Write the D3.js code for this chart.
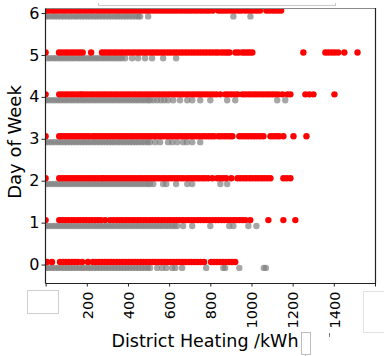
<!DOCTYPE html>
<html>
<head>
<meta charset="utf-8">
<script src="https://cdn.jsdelivr.net/npm/d3@7"></script>
<style>
  body { margin: 0; background: #fff; }
  svg { display: block; }
  text { font-family: "DejaVu Sans", sans-serif; fill: #000; }
</style>
</head>
<body>
<svg id="chart" width="384" height="356"></svg>
<script>
// Day of week index (0 = Monday … 6 = Sunday)
const days = [0, 1, 2, 3, 4, 5, 6];
const xTickValues = [0, 200, 400, 600, 800, 1000, 1200, 1400, 1600];
const yTickValues = [0, 1, 2, 3, 4, 5, 6];

// District heating readings (kWh), highlighted subset, per day
const redDay0 = [6, 31, 70, 84, 99, 113, 128, 142, 157, 177, 206,
  230, 244, 259, 273, 288, 302, 317, 331, 346, 360, 375, 389, 404, 418, 433, 447, 462, 476, 491, 505,
  520, 534, 549, 563, 578, 592, 607, 621, 636, 650, 665, 679, 694, 708, 723, 737, 752, 770,
  804, 818, 833, 847, 862, 876, 891, 905, 921];
const redDay1 = [0, 66, 80, 95, 109, 124, 138, 153, 167, 182, 196, 211, 225, 240, 254, 269, 289,
  313, 330, 347,
  362, 376, 391, 405, 420, 434, 449, 463, 478, 492, 507, 521, 536, 550, 565, 579, 594, 608, 623, 637,
  652, 666, 681, 695, 710, 724, 739, 753, 768, 782, 797, 811, 826, 840, 855, 869, 884, 898, 913, 927,
  942, 956, 971, 994, 1082, 1155, 1213];
const redDay2 = [0, 66, 80, 95, 109, 124, 138, 153, 167, 182, 196, 211, 225, 240, 254, 269,
  280, 294, 309, 323, 338, 352, 367, 381, 396, 410, 425, 439, 454, 468, 483, 497, 512, 526, 541, 555,
  570, 584, 599, 613, 628, 642, 657, 671, 688,
  702, 716, 731, 745, 760, 774, 789, 810, 834, 848, 863, 877, 902,
  932, 946, 961, 975, 990, 1004, 1019, 1033, 1048, 1062, 1077, 1092, 1155, 1171, 1189];
const redDay3 = [0, 66, 80, 95, 109, 124, 138, 153, 167, 182, 196, 211, 229,
  241, 255, 270, 284, 299, 313, 328, 342, 357, 371, 386, 400, 415, 429, 444, 458, 473, 487, 502, 516,
  531, 545, 560, 574, 589, 603, 618, 632, 647, 661, 676, 690, 705, 719, 734, 748, 763, 777, 792, 806, 819,
  839, 853, 868, 882, 896, 907, 941, 955, 970, 984, 999, 1013, 1028, 1042, 1058,
  1092, 1106, 1121, 1135, 1155, 1204, 1267];
const redDay4 = [0, 66, 80, 95, 109, 124, 138, 153, 167, 177,
  191, 205, 220, 234, 249, 263, 278, 292, 307, 321, 336, 350, 365, 379, 394, 408, 423, 437, 452, 466,
  481, 495, 510, 524, 539, 553, 568, 582, 597, 611, 626, 640, 655, 669, 684, 698, 713, 727, 742, 756,
  771, 785, 800, 814, 829, 848, 873, 887, 902, 917, 932,
  956, 970, 985, 999, 1014, 1028, 1043, 1057, 1072, 1086, 1101, 1115, 1130, 1150,
  1175, 1189, 1262, 1281, 1301, 1403];
const redDay5 = [0, 65, 79, 94, 108, 123, 137, 152, 166, 180, 221,
  274, 288, 303, 317, 332, 346, 361, 375, 390, 404, 419, 433, 448, 462, 477, 491, 506, 520, 535, 549,
  564, 578, 593, 607, 622, 636, 651, 665, 680, 694, 709, 723, 738, 752, 767, 781, 796, 810, 825, 838,
  854, 868, 881, 893, 922, 937, 955, 966, 980, 992, 1004,
  1252, 1359, 1374, 1390, 1405, 1421, 1451, 1515];
const redDay6 = [2, 15, 31, 44, 58, 73, 88, 101, 117, 130, 146, 160, 173, 189, 203, 218, 231, 247,
  262, 276, 290, 305, 319, 334, 348, 362, 377, 391, 405, 420, 434, 449, 463, 478, 492, 506, 521, 535,
  550, 564, 578, 593, 607, 622, 636, 651, 665, 680, 694, 708, 723, 737, 752, 766, 781, 795, 812,
  839, 852, 866, 880, 894, 909, 923, 938, 952, 970, 984, 998, 1013, 1027, 1041,
  1072, 1086, 1101, 1115, 1130, 1144];

// District heating readings (kWh), remaining subset, per day
const grayDay0 = [3, 17, 32, 46, 61, 75, 90, 104, 119, 133, 148, 162, 177, 191, 206, 220, 235, 249,
  264, 278, 293, 307, 322, 336, 351, 365, 380, 394, 409, 423, 438, 452, 467, 481, 496, 507,
  542, 566, 586, 615, 630, 663, 780, 863, 872, 941, 1060, 1070];
const grayDay1 = [3, 17, 32, 46, 61, 75, 90, 104, 119, 133, 148, 162, 177, 191, 206, 220, 235, 249,
  264, 278, 293, 307, 322, 336, 351, 365, 380, 394, 409, 423, 438, 452, 467, 481, 496, 510, 525, 539,
  554, 568, 583, 597, 612, 626, 639, 668, 712, 800, 892, 912, 985, 1024];
const grayDay2 = [3, 17, 32, 46, 61, 75, 90, 104, 119, 133, 148, 162, 177, 191, 206, 220, 235, 249,
  264, 278, 293, 307, 322, 336, 351, 365, 380, 394, 409, 423, 438, 452, 467, 481, 496, 507,
  523, 571, 586, 634, 688, 712, 849, 882];
const grayDay3 = [3, 17, 32, 46, 61, 75, 90, 104, 119, 133, 148, 162, 177, 191, 206, 220, 235, 249,
  264, 278, 293, 307, 322, 336, 351, 365, 380, 394, 409, 423, 438, 452, 467, 481, 496, 507,
  532, 556, 595, 615, 639, 668, 686, 712, 751];
const grayDay4 = [3, 17, 32, 46, 61, 75, 90, 104, 119, 133, 148, 162, 177, 191, 206, 220, 235, 249,
  264, 278, 293, 307, 322, 336, 351, 365, 380, 394, 409, 423, 438, 452, 467, 481, 496, 507,
  524, 542, 560, 577, 595, 620, 653, 688, 712, 751, 800, 882, 921, 1125, 1164];
const grayDay5 = [8, 22, 37, 51, 66, 80, 95, 109, 124, 138, 153, 167, 182, 196, 211, 225, 240, 254,
  269, 283, 298, 312, 327, 341, 356, 370, 386, 420, 449, 483, 517, 571, 634];
const grayDay6 = [3, 17, 32, 46, 60, 75, 89, 104, 118, 133, 147, 161, 176, 190, 205, 219, 234, 248,
  262, 277, 291, 306, 320, 335, 349, 363, 378, 392, 407, 421, 436, 450, 459, 498, 912, 995];

const redByDay = [redDay0, redDay1, redDay2, redDay3, redDay4, redDay5, redDay6];
const grayByDay = [grayDay0, grayDay1, grayDay2, grayDay3, grayDay4, grayDay5, grayDay6];
const redOffset = 0.06;
const grayOffset = -0.08;

const svg = d3.select("#chart");
const plot = { left: 45, right: 375, top: 8, bottom: 283 };

const x = d3.scaleLinear().domain([-3, 1600]).range([plot.left, plot.right]);
const y = d3.scaleLinear().domain([-0.44, 6.12]).range([plot.bottom, plot.top]);

svg.append("defs").append("clipPath").attr("id", "plot-clip")
  .append("rect")
  .attr("x", plot.left).attr("y", plot.top)
  .attr("width", plot.right - plot.left).attr("height", plot.bottom - plot.top);

const pointsLayer = svg.append("g").attr("clip-path", "url(#plot-clip)");

const flatten = (byDay, offset) => byDay.flatMap((vals, d) => vals.map(v => ({ v, yv: days[d] + offset })));

pointsLayer.append("g").selectAll("circle")
  .data(flatten(grayByDay, grayOffset))
  .join("circle")
  .attr("cx", d => x(d.v))
  .attr("cy", d => y(d.yv))
  .attr("r", 3.2)
  .attr("fill", "#808080")
  .attr("fill-opacity", 0.7);

pointsLayer.append("g").selectAll("circle")
  .data(flatten(redByDay, redOffset))
  .join("circle")
  .attr("cx", d => x(d.v))
  .attr("cy", d => y(d.yv))
  .attr("r", 3.2)
  .attr("fill", "#ff0000");

// Frame
svg.append("line").attr("x1", plot.left).attr("x2", plot.right)
  .attr("y1", plot.top + 0.5).attr("y2", plot.top + 0.5)
  .attr("stroke", "#888").attr("stroke-width", 1);
svg.append("line").attr("x1", plot.right + 0.5).attr("x2", plot.right + 0.5)
  .attr("y1", plot.top).attr("y2", plot.bottom)
  .attr("stroke", "#222").attr("stroke-width", 1.2);

// Y axis
const yAxis = svg.append("g")
  .attr("transform", `translate(${plot.left},0)`)
  .call(d3.axisLeft(y).tickValues(yTickValues).tickFormat(d3.format("d"))
    .tickSize(3.5).tickSizeOuter(0).tickPadding(2));
yAxis.select(".domain").attr("stroke", "#222").attr("stroke-width", 1.2);
yAxis.selectAll(".tick line").attr("stroke", "#222");
yAxis.selectAll("text").attr("font-size", 16).attr("font-family", "DejaVu Sans, sans-serif");

// X axis with vertical tick labels
const xAxis = svg.append("g")
  .attr("transform", `translate(0,${plot.bottom})`)
  .call(d3.axisBottom(x).tickValues(xTickValues).tickFormat(d3.format("d"))
    .tickSize(3.5).tickSizeOuter(0));
xAxis.select(".domain").attr("stroke", "#222").attr("stroke-width", 1.2);
xAxis.selectAll(".tick line").attr("stroke", "#222");
xAxis.selectAll("text")
  .attr("font-size", 14.5)
  .attr("font-family", "DejaVu Sans, sans-serif")
  .attr("transform", "rotate(-90)")
  .attr("text-anchor", "end")
  .attr("x", -8.5)
  .attr("y", 0)
  .attr("dy", "0.36em");

// Axis titles
svg.append("text")
  .attr("x", 205).attr("y", 347)
  .attr("text-anchor", "middle")
  .attr("font-size", 17.5)
  .text("District Heating /kWh");

svg.append("text")
  .attr("transform", "translate(21,142) rotate(-90)")
  .attr("text-anchor", "middle")
  .attr("font-size", 18)
  .text("Day of Week");

// Empty widget frames around the figure
const frames = svg.append("g").attr("fill", "#fff");
frames.append("rect").attr("x", 27.5).attr("y", 290.5).attr("width", 31).attr("height", 23)
  .attr("stroke", "#cfcfcf");
frames.append("rect").attr("x", 363.5).attr("y", 291.5).attr("width", 30).attr("height", 41)
  .attr("stroke", "#e2e2e2");
frames.append("rect").attr("x", 301.5).attr("y", 332.5).attr("width", 9).attr("height", 22)
  .attr("stroke", "#bdbdbd");
svg.append("line").attr("x1", 305.5).attr("x2", 305.5).attr("y1", 354).attr("y2", 356)
  .attr("stroke", "#bdbdbd");
svg.append("line").attr("x1", 329.5).attr("x2", 329.5).attr("y1", 333).attr("y2", 337)
  .attr("stroke", "#777");

// Thin guide above the plot
const guide = svg.append("g").attr("stroke", "#c8c8c8").attr("fill", "none");
guide.append("line").attr("x1", 98).attr("x2", 336).attr("y1", 5.5).attr("y2", 5.5);
guide.append("line").attr("x1", 98.5).attr("x2", 98.5).attr("y1", 3).attr("y2", 6);
guide.append("line").attr("x1", 335.5).attr("x2", 335.5).attr("y1", 3).attr("y2", 6);
</script>
</body>
</html>
